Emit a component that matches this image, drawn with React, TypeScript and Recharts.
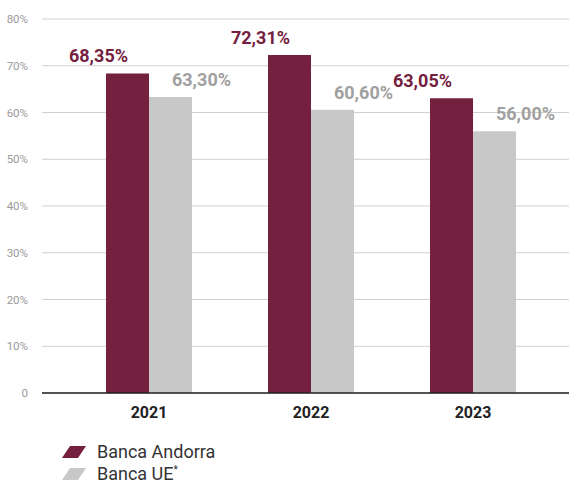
import React from "react";
import { BarChart, Bar, XAxis, YAxis, CartesianGrid, LabelList, Legend } from "recharts";

const years = ["2021", "2022", "2023"];
const andorra = [68.35, 72.31, 63.05];
const ue = [63.3, 60.6, 56.0];
const yTicks = [0, 10, 20, 30, 40, 50, 60, 70, 80];

const MAROON = "#74213f";
const GREY = "#c8c8c9";
const GREY_TEXT = "#a0a0a0";
const FONT = "Roboto, 'Liberation Sans', Arial, sans-serif";

const data = years.map((y, i) => ({ year: y, andorra: andorra[i], ue: ue[i] }));

const fmt = (v: number) => v.toFixed(2).replace(".", ",") + "%";

function makeLabel(color: string, dx: number) {
  return (props: any) => {
    const { x, y, width, value } = props;
    return (
      <text
        x={x + width / 2 + dx}
        y={y - 11}
        textAnchor="middle"
        fill={color}
        fontSize={18}
        fontWeight={700}
        fontFamily={FONT}
      >
        {fmt(value)}
      </text>
    );
  };
}

function LegendContent() {
  const items = [
    { color: MAROON, label: "Banca Andorra", star: false },
    { color: GREY, label: "Banca UE", star: true },
  ];
  return (
    <div style={{ fontFamily: FONT, paddingLeft: 62, paddingTop: 18 }}>
      {items.map((it) => (
        <div key={it.label} style={{ display: "flex", alignItems: "center", height: 22, lineHeight: "22px" }}>
          <svg width={24} height={12} style={{ marginRight: 11 }}>
            <polygon points="8,0 24,0 16,12 0,12" fill={it.color} />
          </svg>
          <span style={{ fontSize: 18, color: "#333" }}>
            {it.label}
            {it.star && <sup style={{ fontSize: 10, lineHeight: 0 }}>*</sup>}
          </span>
        </div>
      ))}
    </div>
  );
}

export default function App() {
  return (
    <div style={{ position: "absolute", left: 0, top: 0, background: "#fff" }}>
      <BarChart
        width={569}
        height={484}
        data={data}
        margin={{ top: 19, right: 0, bottom: 0, left: 0 }}
        barGap={0}
        barSize={43}
      >
        <CartesianGrid vertical={false} stroke="#d0d0d0" />
        <XAxis
          dataKey="year"
          height={30}
          padding={{ left: 26, right: 15 }}
          axisLine={{ stroke: "#222", strokeWidth: 1.5 }}
          tickLine={false}
          tick={{ fontSize: 16, fontWeight: 700, fill: "#222", fontFamily: FONT }}
          tickMargin={8}
        />
        <YAxis
          width={42}
          domain={[0, 80]}
          ticks={yTicks}
          interval={0}
          axisLine={false}
          tickLine={false}
          tickMargin={8}
          tickFormatter={(v: number) => (v === 0 ? "0" : v + "%")}
          tick={{ fontSize: 11.5, fill: "#999", fontFamily: FONT }}
        />
        <Legend verticalAlign="bottom" align="left" height={61} content={<LegendContent />} />
        <Bar dataKey="andorra" fill={MAROON} isAnimationActive={false}>
          <LabelList dataKey="andorra" content={makeLabel(MAROON, -29)} />
        </Bar>
        <Bar dataKey="ue" fill={GREY} isAnimationActive={false}>
          <LabelList dataKey="ue" content={makeLabel(GREY_TEXT, 31)} />
        </Bar>
      </BarChart>
    </div>
  );
}
